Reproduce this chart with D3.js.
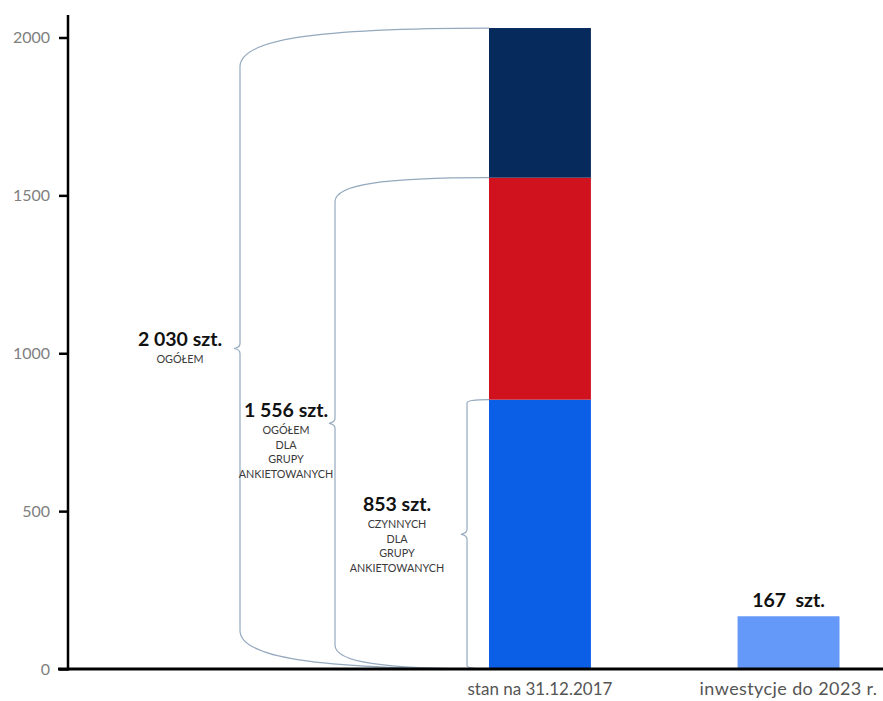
<!DOCTYPE html>
<html>
<head>
<meta charset="utf-8">
<script src="https://cdn.jsdelivr.net/npm/d3@7"></script>
<style>
  html, body { margin: 0; padding: 0; background: #fff; }
  svg { display: block; font-family: Lato, "Open Sans", sans-serif; }
</style>
</head>
<body>
<svg id="chart" width="883" height="701"></svg>
<script>
// Categories on the x axis
const categories = ["stan na 31.12.2017", "inwestycje do 2023 r."];
// Stacked parts of the first bar (bottom to top)
const stackParts = ["czynne", "ankietowani", "pozostałe"];
const stackValues = [853, 703, 474];
// Single value of the second bar
const investValue = 167;
// Y axis ticks
const yTicks = [0, 500, 1000, 1500, 2000];
// Bracket captions (bottom bracket first)
const braceSubtitles = [
  ["CZYNNYCH", "DLA", "GRUPY", "ANKIETOWANYCH"],
  ["OGÓŁEM", "DLA", "GRUPY", "ANKIETOWANYCH"],
  ["OGÓŁEM"]
];

const colors = { czynne: "#0A5FE6", ankietowani: "#D0121F", pozostałe: "#062A5C", invest: "#6499F9" };

const svg = d3.select("#chart");
const x = d3.scaleBand().domain(categories).range([489, 839.5]).paddingInner(0.59).paddingOuter(0);
const y = d3.scaleLinear().domain([0, 2000]).range([669, 37.5]);

const fmt = d3.formatLocale({ decimal: ",", thousands: " ", grouping: [3], currency: ["", " zł"] }).format(",d");

// cumulative stack
let acc = 0;
const stack = stackValues.map((v, i) => { const s = { key: stackParts[i], y0: acc, y1: acc + v }; acc += v; return s; });

// bars
svg.append("g").selectAll("rect").data(stack).join("rect")
  .attr("x", x(categories[0]))
  .attr("width", x.bandwidth())
  .attr("y", d => y(d.y1))
  .attr("height", d => y(d.y0) - y(d.y1))
  .attr("fill", d => colors[d.key]);

svg.append("rect")
  .attr("x", x(categories[1]))
  .attr("width", x.bandwidth())
  .attr("y", y(investValue))
  .attr("height", y(0) - y(investValue))
  .attr("fill", colors.invest);

svg.append("text")
  .attr("x", x(categories[1]) + x.bandwidth() / 2)
  .attr("y", y(investValue) - 9)
  .attr("text-anchor", "middle")
  .style("white-space", "pre")
  .attr("font-weight", "bold").attr("font-size", 19.5).attr("fill", "#111")
  .text(fmt(investValue) + "  szt.");

// brackets: each spans from 0 up to a cumulative total, pointing left at its middle
const braceX = [467, 335, 240];
const braceLabelPos = [{ x: 397, y: 511 }, { x: 286, y: 417 }, { x: 180, y: 346 }];
const x0 = x(categories[0]);

function bracePath(xv, yT, yB) {
  const W = x0 - xv, h = 0.155 * W, yM = (yT + yB) / 2;
  return [
    `M${x0},${yT}`,
    `C${x0 - 0.7 * W},${yT} ${xv},${yT + 0.3 * h} ${xv},${yT + h}`,
    `L${xv},${yM - 5}`,
    `Q${xv},${yM - 1} ${xv - 6},${yM}`,
    `Q${xv},${yM + 1} ${xv},${yM + 5}`,
    `L${xv},${yB - h}`,
    `C${xv},${yB - 0.3 * h} ${x0 - 0.7 * W},${yB} ${x0},${yB}`
  ].join(" ");
}

const braces = stack.map((s, i) => ({ total: s.y1, xv: braceX[i], pos: braceLabelPos[i], sub: braceSubtitles[i] }));

const gb = svg.append("g");
gb.selectAll("path").data(braces).join("path")
  .attr("d", d => bracePath(d.xv, y(d.total), y(0)))
  .attr("fill", "none").attr("stroke", "#94A9BE").attr("stroke-width", 1.2);

braces.forEach(d => {
  const g = svg.append("g").attr("text-anchor", "middle");
  g.append("text").attr("x", d.pos.x).attr("y", d.pos.y)
    .attr("font-weight", "bold").attr("font-size", 19.5).attr("fill", "#111")
    .text(fmt(d.total) + " szt.");
  d.sub.forEach((t, j) => {
    g.append("text").attr("x", d.pos.x).attr("y", d.pos.y + 17 + j * 14.5)
      .attr("font-size", 10.8).attr("fill", "#3a3a3a").text(t);
  });
});

// y axis
const yAxis = svg.append("g").attr("transform", "translate(68,0)")
  .call(d3.axisLeft(y).tickValues(yTicks).tickSize(9).tickPadding(9).tickFormat(d3.format("d")));
yAxis.select(".domain").remove();
yAxis.selectAll(".tick line").attr("stroke", "#000").attr("stroke-width", 2.5);
yAxis.selectAll(".tick text").attr("fill", "#808080").attr("font-size", 16).attr("font-family", "Lato, sans-serif");
svg.append("line").attr("x1", 68).attr("x2", 68).attr("y1", 15).attr("y2", y(0) + 1.5)
  .attr("stroke", "#000").attr("stroke-width", 2.5);

// x axis
svg.append("line").attr("x1", 58).attr("x2", 883).attr("y1", y(0)).attr("y2", y(0))
  .attr("stroke", "#000").attr("stroke-width", 3);
svg.append("g").selectAll("text").data(categories).join("text")
  .attr("x", d => x(d) + x.bandwidth() / 2)
  .attr("y", 695)
  .attr("text-anchor", "middle")
  .attr("font-size", (d, i) => i === 0 ? 17 : 18)
  .attr("letter-spacing", (d, i) => i === 0 ? 0 : 0.4)
  .attr("fill", "#555")
  .text(d => d);
</script>
</body>
</html>
